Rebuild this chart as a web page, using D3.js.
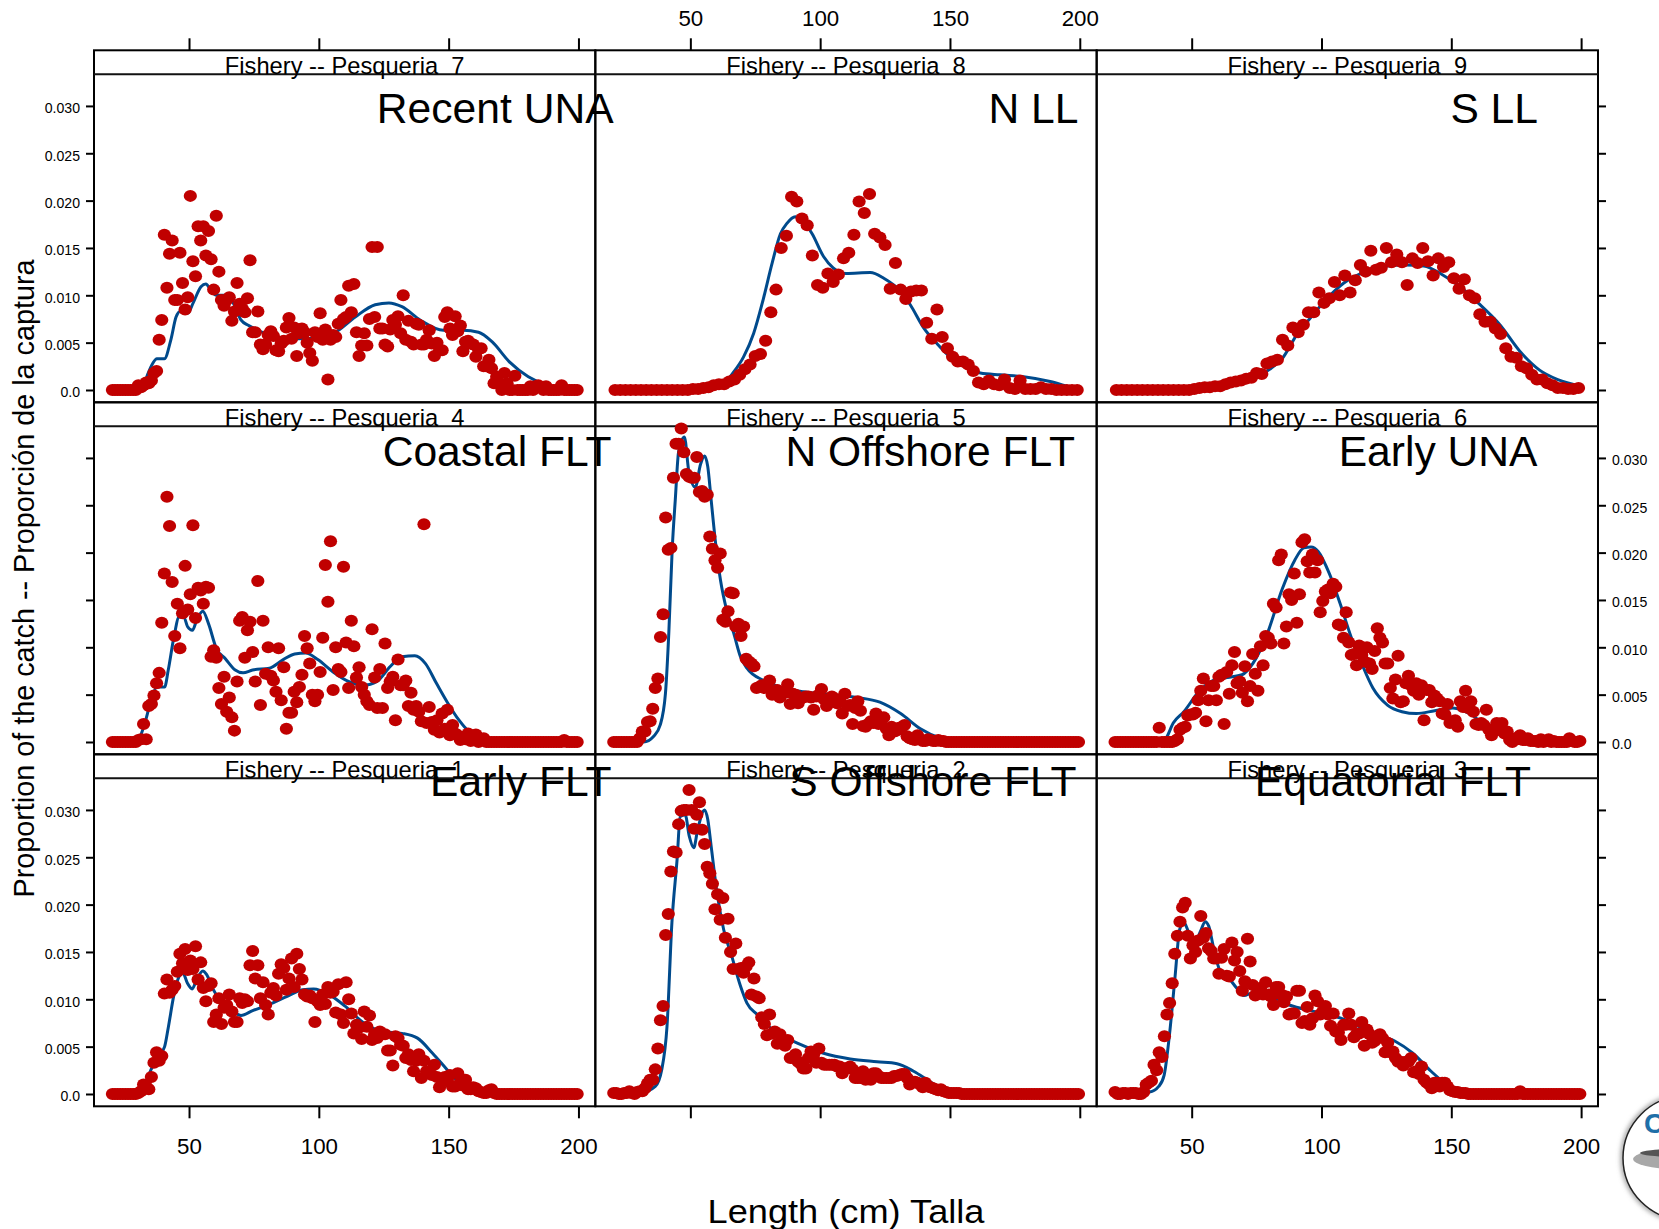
<!DOCTYPE html>
<html>
<head>
<meta charset="utf-8">
<script src="https://cdn.jsdelivr.net/npm/d3@7"></script>
<style>
  html, body { margin: 0; padding: 0; background: #fff; }
  svg { display: block; }
  text { font-family: "Liberation Sans", Arial, sans-serif; fill: #000; white-space: pre; }
</style>
</head>
<body>
<div id="chart"></div>
<script>
// values are proportion of the catch x 10000
// observed points, panels with 1 cm bins start at 20.5, panels with 2 cm bins start at 21
const obs1 = [0,0,0,0,0,0,0,0,0,0, 1,3,10,8,5,18,33,44,35,40,
  106,121,107,110,114,129,148,138,153,131, 141,132,156,121,139,112,98,114,117,76,
  84,101,74,91,94,105,87,76,76,101, 96,100,98,136,151,122,136,101,118,94,
  84,107,112,104,127,137,133,110,122,143, 113,148,132,121,105,103,104,101,76,98,
  94,105,95,113,107,108,86,116,84,75, 118,100,85,64,73,70,58,87,71,83,
  57,63,59,66,63,63,46,46,30,61, 59,52,51,38,42,36,24,35,42,17,
  35,24,23,20,31,18,7,15,18,14, 20,8,8,22,12,9,15,5,5,7,
  6,3,2,1,1,4,5,1,0,0, 0,0,0,0,0,0,0,0,0,0,
  0,0,0,0,0,0,0,0,0,0, 0,0,0,0,0,0,0,0,0,0];
const obs2 = [1,1,0,0,1,1,3,1,0,2, 3,3,6,11,15,15,26,48,78,93,
  168,190,235,256,255,285,299,300,300,321, 300,280,295,308,279,264,240,233,222,195,
  211,184,207,165,185,150,132,159,132,133, 128,135,139,105,122,103,101,81,74,62,
  84,64,66,53,63,55,51,57,38,38, 42,34,32,27,27,38,45,42,33,48,
  33,31,31,31,31,31,29,29,22,27, 27,29,26,17,17,17,24,15,17,15,
  22,22,19,17,17,17,17,17,19,19, 20,21,21,17,10,13,13,12,10,7,
  12,8,7,6,5,4,5,3,2,1, 1,1,1,1,0,0,0,0,0,0,
  0,0,0,0,0,0,0,0,0,0, 0,0,0,0,0,0,0,0,0,0,
  0,0,0,0,0,0,0,0,0,0, 0,0,0,0,0,0,0,0,0,0];
const obs3 = [2,0,0,1,1,0,1,1,1,0, 0,2,10,12,14,31,25,44,39,61,
  84,96,117,148,167,182,197,202,167,143, 157,150,162,188,165,170,154,151,143,143,
  127,144,153,125,124,160,141,150,130,109, 119,164,140,115,104,108,112,105,118,105,
  103,94,113,113,105,97,103,84,85,85, 109,109,75,77,92,73,80,104,98,84,
  87,93,84,72,85,66,65,57,73,73, 85,73,60,63,64,76,51,68,63,54,
  56,61,63,59,44,54,44,45,38,34, 34,30,34,34,38,23,24,21,29,15,
  12,10,6,12,12,8,12,12,8,4, 3,2,2,1,1,1,0,0,0,0,
  0,0,0,0,0,0,0,0,0,0, 0,0,0,0,0,0,3,0,0,0,
  0,0,0,0,0,0,0,0,0,0, 0,0,0,0,0,0,0,0,0,0];
const obs4 = [0,0,0,0,0,0,0,0,0,0, 2,3,19,3,38,40,49,62,73,126,
  178,259,228,169,112,146,99,136,186,140, 156,229,131,163,160,146,164,163,90,97,
  89,57,40,69,32,47,26,12,64,128, 132,89,118,127,95,64,170,39,128,72,
  100,70,65,53,99,44,79,14,31,31, 53,42,58,71,112,99,83,50,43,50,
  74,110,187,148,212,55,100,77,74,185, 105,57,128,101,68,79,58,50,43,39,
  119,68,36,77,36,104,57,64,69,23, 87,60,60,65,38,52,34,38,32,22,
  230,20,37,21,13,23,10,30,14,34, 7,18,9,7,2,5,3,9,1,5,
  8,0,2,4,0,0,0,0,0,0, 0,0,0,0,0,0,0,0,0,0,
  0,0,0,0,0,0,0,0,0,0, 0,0,0,0,2,0,0,0,0,0];
const obs5 = [0,0,0,0,0,0,0,0,0,0, 4,11,11,21,22,35,57,67,111,135,
  237,203,205,279,315,315,331,306,283,280, 279,279,301,264,265,259,261,217,204,192,
  184,199,129,127,138,158,157,122,125,112, 122,88,85,83,80,57,58,60,57,58,
  65,50,53,55,47,53,52,61,40,51, 50,41,46,47,48,48,47,34,48,50,
  56,45,38,44,48,46,41,45,30,51, 38,39,19,36,43,33,17,16,19,22,
  20,30,19,23,26,14,7,16,11,12, 15,16,18,6,4,3,2,7,3,1,
  1,3,2,1,1,2,1,1,0,0, 0,0,0,0,0,0,0,0,0,0,
  0,0,0,0,0,0,0,0,0,0, 0,0,0,0,0,0,0,0,0,0,
  0,0,0,0,0,0,0,0,0,0, 0,0,0,0,0,0,0,0,0,0];
const obs6 = [0,0,0,0,0,0,0,0,0,0, 0,0,0,0,0,0,0,15,0,0,
  0,0,0,1,3,13,15,16,28,29, 29,31,44,54,67,22,44,59,59,44,
  69,71,19,74,51,81,95,62,64,52, 80,43,59,93,72,54,101,81,112,110,
  104,146,142,192,198,104,122,156,150,178, 126,156,211,214,191,179,198,179,192,137,
  149,159,161,157,167,164,124,123,110,137, 105,92,93,81,102,92,85,100,83,77,
  96,120,110,105,83,83,57,46,66,91, 42,43,62,70,60,54,62,50,60,23,
  55,55,42,49,46,43,30,29,40,20, 22,23,16,43,37,54,36,43,32,19,
  18,20,18,34,13,7,14,20,13,20, 9,11,2,0,4,3,7,2,2,4,
  1,1,1,0,3,0,1,3,0,1, 0,0,0,0,0,4,1,0,0,1];
const obs7 = [0,0,0,0,0,0,0,0,0,0, 5,3,5,8,7,10,18,20,53,74,
  164,108,144,158,95,95,145,113,85,98, 205,136,120,173,158,173,142,168,138,106,
  184,125,95,89,95,98,73,83,113,91, 86,82,97,137,61,61,83,48,43,48,
  58,62,57,42,41,49,52,66,76,54, 66,36,60,65,61,50,39,31,61,56,
  81,53,64,11,53,58,56,70,95,75, 77,110,82,112,61,36,47,60,47,75,
  151,77,151,65,65,48,46,64,74,69, 78,60,100,53,73,51,48,70,69,48,
  48,53,63,49,36,50,42,42,77,82, 65,58,78,62,68,41,51,52,49,48,
  35,43,44,25,25,32,23,7,14,7, 0,18,7,0,0,15,0,0,0,0,
  0,4,0,4,5,3,0,4,0,0, 0,0,0,5,0,0,0,0,0,0];
const obs8 = [0,0,0,0,0,0,0,0,0,0, 0,0,0,0,0,1,1,2,3,5,
  6,6,9,11,16,22,27,36,38,52, 82,106,150,163,204,199,181,174,142,111,
  108,123,114,122,139,145,164,199,187,207, 165,161,153,107,134,106,96,104,105,105,
  71,54,85,56,44,35,30,30,27,20, 8,6,10,6,5,11,2,1,10,1,
  1,1,3,1,1,0,0,0,0,0];
const obs9 = [0,0,0,0,0,0,0,0,0,0, 0,0,0,0,0,1,2,3,3,4,
  4,6,8,9,10,12,13,18,17,28, 30,32,53,47,66,61,69,82,82,103,
  92,97,114,100,121,103,116,132,125,147, 127,129,150,135,143,135,111,139,134,150,
  136,121,139,130,135,118,107,117,100,97, 80,72,72,65,59,44,35,34,25,23,
  16,11,11,7,5,2,2,1,1,2];

// model fit, knots along the line: length and value
const fitX1 = [21,30,32.4,35.4,38.3,40.6,42,44.2,45.7,47.6,49.4,51.2,53,55.3,56.8,59,62.7,67,70,74.5,80.4,87.8,93.7,98,104,110,117.3,124.6,132,138,143.8,149,154,160,166,199];
const fitY1 = [0,1,5,26,40,50,70,105,121,128,117,111,121,130,126,112,96,87,83,88,94,103,110,111,105,93,75,66,64,59,43,27,12,3,0,0];
const fitX2 = [21,30.7,36.5,39,41,42.9,44.9,46.1,48,49.6,51.3,52.8,55.5,56.7,58,60.3,62.8,66,69.3,71.8,75.7,83.4,91,101.3,111.6,121.9,129.6,136,142.4,148.8,152.7,199];
const fitY2 = [0,1,8,26,71,181,248,293,295,272,260,279,300,290,262,212,174,145,114,96,84,64,54,43,37,34,32,24,13,3,0,0];
const fitX3 = [21,33.8,37.3,39.4,41.5,43.6,45.4,47,48.7,51.3,53.4,55.2,56.6,58.3,60.8,63.8,67.3,70.1,73.6,80.6,87.6,97.4,108.6,119.8,128.2,135.2,142.2,149.2,154.8,159,199];
const fitY3 = [0,2,8,20,64,124,174,181,172,161,172,182,177,156,131,124,112,104,107,103,94,87,79,64,56,43,24,8,1,0,0];
const fitX4 = [21,29,31,33,35.4,37.6,40.6,42,44.2,46.2,48,49.4,51.3,53,55.3,57.5,60.5,64,67.8,70.8,74.5,81,86.3,90.7,95,99.6,105.5,111.4,117.3,122.4,127.6,132,137,141,145.3,149.7,154,157.8,161.5,166,199];
const fitY4 = [0,1,5,20,44,58,58,76,111,132,132,122,118,129,138,125,99,88,76,73,76,78,87,93,94,87,74,64,60,64,80,90,91,83,62,41,23,11,4,0,0];
const fitX5 = [21,32,35.9,38.4,40.4,41.7,43,44.2,45.5,47.7,49.4,51.9,53.9,55.5,56.7,58,59.6,61.6,64,66.7,69.3,71.8,78.2,84.7,93.6,103.9,114.2,123,131,138.6,146.3,152.7,199];
const fitY5 = [0,0,6,18,51,115,203,256,307,322,286,269,293,302,291,256,213,171,139,115,90,78,65,58,53,50,47,42,30,14,4,0,0];
const fitX6 = [21,38,40.1,42.9,47,52.7,58.3,63.8,69.4,73.6,79.2,84.8,89.7,93.2,96,98.8,103,107.2,111.4,115.6,119.8,125.4,131,136.6,143.6,150.6,157.6,164.5,170,175.7,182.7,199];
const fitY6 = [0,0,4,20,32,53,65,68,71,83,115,161,192,205,206,201,178,146,111,82,57,39,32,30,33,36,29,14,6,2,0,0];
const fitX7 = [21,32,34,36,37.6,40.5,43,45,46.5,49.5,51.6,54.6,56.5,58.3,60.5,64,67,70,73,77.4,83.3,92,102.5,107,114,121.7,127,132,139,148,155.6,161.5,166.7,173.3,180.7,188,192.5,199];
const fitY7 = [0,1,16,28,33,33,53,77,83,81,92,109,112,106,100,100,92,74,68,62,56,54,56,62,77,90,92,88,74,63,63,61,51,30,14,5,2,0];
const fitX8 = [21,50,62.8,66.7,70.5,74.4,78,81.5,84.7,87.2,90.4,93.6,96.9,101.3,105,110,119.3,124.5,131,134.7,140,145,150,156.5,161.7,169.4,178.4,188.6,196.3,199];
const fitY8 = [0,1,7,19,35,60,95,134,165,176,183,178,165,141,129,123,124,118,104,90,65,49,35,23,18,16,14,9,3,1];
const fitX9 = [21,58,66.6,72.2,76.4,80.6,84.8,90.4,96,101.6,108.6,117,125.4,132.4,139.4,146.4,153.4,160.3,168.7,177,184,191,198,199];
const fitY9 = [0,1,5,11,16,23,33,58,77,95,113,125,131,132,131,122,109,92,69,39,21,11,5,4];

const xTicks = [50, 100, 150, 200];
const yTicks = [0, 50, 100, 150, 200, 250, 300];
const yTickLabels = ["0.0", "0.005", "0.010", "0.015", "0.020", "0.025", "0.030"];

// row 0 is the top row of the lattice
const panels = [
  { row: 0, col: 0, strip: "Fishery -- Pesqueria  7", title: "Recent UNA",     titleEnd: 613.6, obs: obs7, fitX: fitX7, fitY: fitY7, bin: 1 },
  { row: 0, col: 1, strip: "Fishery -- Pesqueria  8", title: "N LL",           titleEnd: 1078.5, obs: obs8, fitX: fitX8, fitY: fitY8, bin: 2 },
  { row: 0, col: 2, strip: "Fishery -- Pesqueria  9", title: "S LL",           titleEnd: 1538, obs: obs9, fitX: fitX9, fitY: fitY9, bin: 2 },
  { row: 1, col: 0, strip: "Fishery -- Pesqueria  4", title: "Coastal FLT",    titleEnd: 611.5, obs: obs4, fitX: fitX4, fitY: fitY4, bin: 1 },
  { row: 1, col: 1, strip: "Fishery -- Pesqueria  5", title: "N Offshore FLT", titleEnd: 1075, obs: obs5, fitX: fitX5, fitY: fitY5, bin: 1 },
  { row: 1, col: 2, strip: "Fishery -- Pesqueria  6", title: "Early UNA",      titleEnd: 1537.5, obs: obs6, fitX: fitX6, fitY: fitY6, bin: 1 },
  { row: 2, col: 0, strip: "Fishery -- Pesqueria  1", title: "Early FLT",      titleEnd: 611.5, obs: obs1, fitX: fitX1, fitY: fitY1, bin: 1 },
  { row: 2, col: 1, strip: "Fishery -- Pesqueria  2", title: "S Offshore FLT", titleEnd: 1076.5, obs: obs2, fitX: fitX2, fitY: fitY2, bin: 1 },
  { row: 2, col: 2, strip: "Fishery -- Pesqueria  3", title: "Equatorial FLT", titleEnd: 1531, obs: obs3, fitX: fitX3, fitY: fitY3, bin: 1 }
];

const width = 1659, height = 1229;
const left = 94, top_ = 50.3;
const panelW = 501.33, rowH = 352, stripH = 24;
const titleBase = [122.7, 465.7, 795.7];

const svg = d3.select("#chart").append("svg")
  .attr("width", width)
  .attr("height", height);

const defs = svg.append("defs");
defs.append("filter").attr("id", "soft")
  .attr("x", "-20%").attr("y", "-20%").attr("width", "140%").attr("height", "140%")
  .append("feGaussianBlur").attr("stdDeviation", 2.5);

// logo goes first, it sits behind everything and runs off the page
const logo = svg.append("g");
logo.append("circle").attr("cx", 1685).attr("cy", 1158).attr("r", 62)
  .attr("fill", "none").attr("stroke", "#888").attr("stroke-width", 4).attr("filter", "url(#soft)");
logo.append("circle").attr("cx", 1685).attr("cy", 1158).attr("r", 62)
  .attr("fill", "#fff").attr("stroke", "#222").attr("stroke-width", 1.5);
logo.append("text").attr("x", 1644).attr("y", 1133)
  .attr("font-size", 28).attr("font-weight", "bold").style("fill", "#1f6fa8").text("C");
logo.append("ellipse").attr("cx", 1676).attr("cy", 1159).attr("rx", 43).attr("ry", 10)
  .attr("fill", "#a8a8a8");
logo.append("ellipse").attr("cx", 1678).attr("cy", 1153).attr("rx", 38).attr("ry", 4)
  .attr("fill", "#555");

panels.forEach(function (p) {
  const x0 = left + p.col * panelW;
  const y0 = top_ + p.row * rowH;

  const x = d3.scaleLinear().domain([13.4, 206.5]).range([x0, x0 + panelW]);
  const y = d3.scaleLinear().domain([-13, 333.4]).range([y0 + rowH, y0 + stripH]);

  const g = svg.append("g");

  // strip and panel frame
  g.append("rect").attr("x", x0).attr("y", y0).attr("width", panelW).attr("height", rowH)
    .attr("fill", "none").attr("stroke", "#000").attr("stroke-width", 2);
  g.append("line").attr("x1", x0).attr("x2", x0 + panelW)
    .attr("y1", y0 + stripH).attr("y2", y0 + stripH)
    .attr("stroke", "#111").attr("stroke-width", 2);

  g.append("text").attr("x", x0 + panelW / 2).attr("y", y0 + 23.7)
    .attr("text-anchor", "middle").attr("font-size", 23.7).text(p.strip);

  // axes, ticks alternate sides as lattice does
  if (p.col === 0) {
    const axis = g.append("g").attr("transform", "translate(" + x0 + ",0)")
      .call(d3.axisLeft(y).tickValues(yTicks).tickSize(8).tickPadding(6)
        .tickFormat(function (d, i) { return p.row === 1 ? "" : yTickLabels[i]; }));
    styleAxis(axis, 14.1);
    axis.selectAll("text").attr("dy", "0.62em").attr("y", -2);
  }
  if (p.col === 2) {
    const axis = g.append("g").attr("transform", "translate(" + (x0 + panelW) + ",0)")
      .call(d3.axisRight(y).tickValues(yTicks).tickSize(8).tickPadding(6)
        .tickFormat(function (d, i) { return p.row === 1 ? yTickLabels[i] : ""; }));
    styleAxis(axis, 14.1);
    axis.selectAll("text").attr("dy", "0.62em").attr("y", -2);
  }
  if (p.row === 0) {
    const axis = g.append("g").attr("transform", "translate(0," + y0 + ")")
      .call(d3.axisTop(x).tickValues(xTicks).tickSize(12).tickPadding(12)
        .tickFormat(function (d) { return p.col === 1 ? d : ""; }));
    styleAxis(axis, 22.3);
  }
  if (p.row === 2) {
    const axis = g.append("g").attr("transform", "translate(0," + (y0 + rowH) + ")")
      .call(d3.axisBottom(x).tickValues(xTicks).tickSize(12).tickPadding(20)
        .tickFormat(function (d) { return p.col === 1 ? "" : d; }));
    styleAxis(axis, 22.3);
  }

  const line = d3.line()
    .x(function (d, i) { return x(p.fitX[i]); })
    .y(function (d) { return y(d); })
    .curve(d3.curveMonotoneX);

  g.append("path").datum(p.fitY)
    .attr("d", line)
    .attr("fill", "none")
    .attr("stroke", "#004a8c")
    .attr("stroke-width", 3);

  // bin centres, 20.5, 21.5 ... or 21, 23 ...
  const binStart = p.bin === 1 ? 20.5 : 21;
  g.selectAll("ellipse").data(p.obs).join("ellipse")
    .attr("cx", function (d, i) { return x(binStart + i * p.bin); })
    .attr("cy", function (d) { return y(d); })
    .attr("rx", 6.6)
    .attr("ry", 6)
    .attr("fill", "#c00000");

  g.append("text").attr("x", p.titleEnd).attr("y", titleBase[p.row])
    .attr("text-anchor", "end").attr("font-size", 42.6).text(p.title);
});

function styleAxis(axis, size) {
  axis.select(".domain").remove();
  axis.selectAll("line").attr("stroke", "#000").attr("stroke-width", 2);
  axis.selectAll("text").attr("font-size", size)
    .style("font-family", '"Liberation Sans", Arial, sans-serif').style("fill", "#000");
}

svg.append("text").attr("x", 846).attr("y", 1223)
  .attr("text-anchor", "middle").attr("font-size", 34)
  .attr("textLength", 277).attr("lengthAdjust", "spacingAndGlyphs")
  .text("Length (cm) Talla");

svg.append("text").attr("transform", "translate(34,578.5) rotate(-90)")
  .attr("text-anchor", "middle").attr("font-size", 29.5)
  .attr("textLength", 638).attr("lengthAdjust", "spacingAndGlyphs")
  .text("Proportion of the catch -- Proporción de la captura");
</script>
</body>
</html>
